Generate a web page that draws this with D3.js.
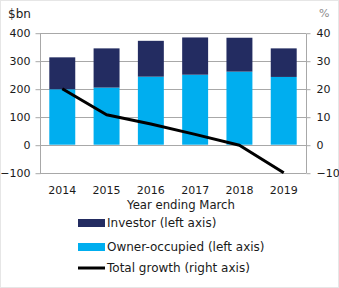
<!DOCTYPE html>
<html>
<head>
<meta charset="utf-8">
<script src="https://cdn.jsdelivr.net/npm/d3@7"></script>
<style>
  body { margin: 0; background: #fff; }
  text { font-family: "DejaVu Sans", sans-serif; fill: #1a1a1a; }
</style>
</head>
<body>
<div id="chart"></div>
<script>
// --- data ---
const years = ['2014', '2015', '2016', '2017', '2018', '2019'];
const ownerOccupied = [198, 204, 243, 250, 261, 242];
const investor = [114, 140, 128, 133, 121, 102];
const totalGrowth = [20, 10.7, 7.4, 3.7, -0.2, -10];
const leftTicks = [-100, 0, 100, 200, 300, 400];
const rightTicks = [-10, 0, 10, 20, 30, 40];

const W = 339, H = 288;
const margin = { top: 32.7, left: 40, right: 33, bottom: 115.3 };

const svg = d3.select('#chart').append('svg')
  .attr('width', W)
  .attr('height', H);

// faint frame
svg.append('rect')
  .attr('x', 0.5).attr('y', 0.5)
  .attr('width', W - 1).attr('height', H - 1)
  .attr('fill', 'none').attr('stroke', '#e6e6e6');

const x = d3.scaleBand()
  .domain(years)
  .range([margin.left, W - margin.right])
  .paddingInner(0.414)
  .paddingOuter(0.21);

const y = d3.scaleLinear()
  .domain([-100, 400])
  .range([H - margin.bottom, margin.top]);

const y2 = d3.scaleLinear()
  .domain([-10, 40])
  .range([H - margin.bottom, margin.top]);

const grid = '#a8a8a8';

// gridlines
svg.append('g')
  .selectAll('line')
  .data(leftTicks)
  .enter().append('line')
  .attr('x1', margin.left)
  .attr('x2', W - margin.right)
  .attr('y1', d => Math.round(y(d)) + 0.5)
  .attr('y2', d => Math.round(y(d)) + 0.5)
  .attr('stroke', grid);

// left axis
const yAxis = d3.axisLeft(y).tickValues(leftTicks).tickSize(5).tickPadding(5);
const gl = svg.append('g')
  .attr('transform', `translate(${margin.left + 0.5}, 0.5)`)
  .call(yAxis);

// right axis
const yAxis2 = d3.axisRight(y2).tickValues(rightTicks).tickSize(4).tickPadding(6);
const gr = svg.append('g')
  .attr('transform', `translate(${W - margin.right + 0.5}, 0.5)`)
  .call(yAxis2);

[gl, gr].forEach(g => {
  g.selectAll('path, line').attr('stroke', grid);
  g.selectAll('text').style('font-size', '11px').attr('fill', '#1a1a1a');
});
gl.select('.domain').attr('d', `M0,${Math.round(y(-100))}V${Math.round(y(400))}`);
gr.select('.domain').attr('d', `M0,${Math.round(y(-100))}V${Math.round(y(400))}`);

// bars
const bars = svg.append('g');
bars.selectAll('.owner')
  .data(years)
  .enter().append('rect')
  .attr('class', 'owner')
  .attr('x', d => x(d))
  .attr('width', x.bandwidth())
  .attr('y', (d, i) => y(ownerOccupied[i]))
  .attr('height', (d, i) => y(0) - y(ownerOccupied[i]))
  .attr('fill', '#00aeef');

bars.selectAll('.investor')
  .data(years)
  .enter().append('rect')
  .attr('class', 'investor')
  .attr('x', d => x(d))
  .attr('width', x.bandwidth())
  .attr('y', (d, i) => y(ownerOccupied[i] + investor[i]))
  .attr('height', (d, i) => y(ownerOccupied[i]) - y(ownerOccupied[i] + investor[i]))
  .attr('fill', '#232c61');

// growth line (right axis)
const line = d3.line()
  .x((d, i) => x(years[i]) + x.bandwidth() / 2)
  .y(d => y2(d));

svg.append('path')
  .datum(totalGrowth)
  .attr('d', line)
  .attr('fill', 'none')
  .attr('stroke', '#000')
  .attr('stroke-width', 3)
  .attr('stroke-linejoin', 'round');

// x labels
svg.append('g')
  .selectAll('text')
  .data(years)
  .enter().append('text')
  .attr('x', d => x(d) + x.bandwidth() / 2)
  .attr('y', 194)
  .attr('text-anchor', 'middle')
  .style('font-size', '11px')
  .text(d => d);

svg.append('text')
  .attr('x', 181)
  .attr('y', 209)
  .attr('text-anchor', 'middle')
  .style('font-size', '11.7px')
  .text('Year ending March');

// unit labels
svg.append('text')
  .attr('x', 8).attr('y', 18)
  .style('font-size', '12px')
  .text('$bn');

svg.append('text')
  .attr('x', 319).attr('y', 17)
  .style('font-size', '11px')
  .style('fill', '#8c8c8c')
  .text('%');

// legend
const legend = [
  { label: 'Investor (left axis)', type: 'bar', color: '#232c61', cy: 223 },
  { label: 'Owner-occupied (left axis)', type: 'bar', color: '#00aeef', cy: 247 },
  { label: 'Total growth (right axis)', type: 'line', color: '#000', cy: 268 }
];

const lg = svg.append('g')
  .selectAll('g')
  .data(legend)
  .enter().append('g');

lg.filter(d => d.type === 'bar').append('rect')
  .attr('x', 78).attr('width', 27)
  .attr('y', d => d.cy - 4).attr('height', 8)
  .attr('fill', d => d.color);

lg.filter(d => d.type === 'line').append('line')
  .attr('x1', 78).attr('x2', 105)
  .attr('y1', d => d.cy).attr('y2', d => d.cy)
  .attr('stroke', d => d.color)
  .attr('stroke-width', 3);

lg.append('text')
  .attr('x', 107)
  .attr('y', d => d.cy + 4)
  .style('font-size', '12px')
  .text(d => d.label);
</script>
</body>
</html>
